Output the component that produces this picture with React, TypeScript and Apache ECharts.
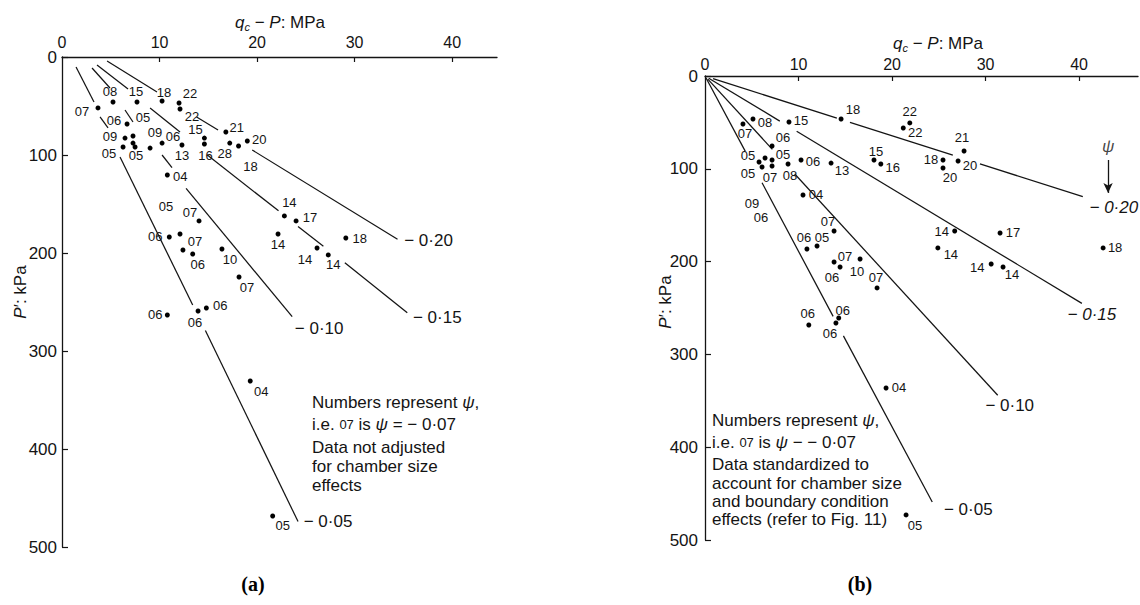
import React, { useEffect, useRef } from 'react';
import * as echarts from 'echarts';

const FONT = '"Liberation Sans", Arial, Helvetica, sans-serif';
const INK = '#141414';

// ---- axes ----
const xTickValues = [0, 10, 20, 30, 40];
const yTickValues = [0, 100, 200, 300, 400, 500];
const xMaxA = 44.6;
const xMaxB = 46.3;
const yMax = 500;
const xTitle = '{i|q}{s|c} − {i|P}: MPa';
const yTitle = '{i|P}′: kPa';

// ---- psi lines labels ----
const psiLineLabels = ['− 0·05', '− 0·10', '− 0·15', '− 0·20'];

type Pt = [number, number];
type Seg = [Pt, Pt];

// Panel (a): visible pieces of each psi line [MPa, kPa]
const lineA05: Seg[] = [[[1.44, 10.2], [3.28, 45.9]], [[3.9, 61.2], [4.72, 72.4]], [[5.95, 102], [13.4, 253]], [[14.7, 279], [24.2, 474]]];
const lineA10: Seg[] = [[[3.08, 11.2], [4.92, 31.6]], [[6.46, 54.1], [7.28, 66.3]], [[10.26, 100], [11.28, 113]], [[12.72, 134], [23.6, 265]]];
const lineA15: Seg[] = [[[3.59, 8.2], [6.77, 32.7]], [[9.03, 52], [12.1, 76.5]], [[14.9, 100], [22.2, 157]], [[24.2, 173], [26.8, 193]], [[29.0, 210], [35.4, 261]]];
const lineA20: Seg[] = [[[4.62, 4.1], [9.74, 35.7]], [[13.8, 61.2], [16.0, 74.5]], [[19.5, 94.9], [34.4, 186]]];

// Panel (b)
const lineB05: Seg[] = [[[0.1, 1.9], [4.3, 81]], [[6.1, 115], [13.7, 259]], [[14.8, 280], [24.3, 459]]];
const lineB10: Seg[] = [[[0.3, 3.3], [7.2, 79]], [[9.6, 105.6], [31.3, 344]]];
const lineB15: Seg[] = [[[0.4, 2.4], [8.0, 48.6]], [[9.8, 59.6], [40.3, 245]]];
const lineB20: Seg[] = [[[0.86, 2.8], [14.1, 45.4]], [[15.5, 49.9], [26.5, 85.3]], [[29.4, 94.7], [40.4, 130]]];

// Panel (a) data points: [qc-P MPa, P' kPa, psi label]
const pointsA: [number, number, string][] = [
  [3.69, 52.0, '07'], [5.23, 45.9, '08'], [7.69, 45.9, '15'], [10.26, 44.9, '18'],
  [12.0, 46.9, '22'], [12.1, 53.1, '22'], [6.67, 68.4, '06'], [6.46, 82.7, '09'],
  [7.28, 80.6, '05'], [7.28, 87.8, '09'], [7.49, 91.8, '05'], [6.26, 91.8, '05'],
  [9.03, 92.9, ''], [10.26, 87.8, '06'], [12.3, 89.8, '13'], [14.6, 82.7, '15'],
  [14.6, 88.8, '16'], [16.8, 76.5, '21'], [17.2, 87.8, '28'], [18.1, 90.8, '18'],
  [19.0, 85.7, '20'], [10.8, 120.4, '04'], [14.05, 167.3, '07'], [12.1, 180.6, '05'],
  [11.0, 183.7, '06'], [12.4, 196.9, '07'], [13.4, 201, '06'], [16.4, 195.9, '10'],
  [18.15, 224.5, '07'], [13.95, 259.2, '06'], [14.8, 256.1, '06'], [10.8, 263.3, '06'],
  [19.3, 330.6, '04'], [21.6, 468.4, '05'], [22.8, 162.2, '14'], [24.0, 167.3, '17'],
  [22.15, 180.6, '14'], [26.15, 194.9, '14'], [27.3, 202, '14'], [29.1, 184.7, '18'],
];
// label placement offsets (px) for panel (a)
const labelOffsetA: Pt[] = [
  [-16, 4], [-3, -10], [-1, -10], [2, -9],
  [11, -9], [12, 7], [-13, -4], [-15, -2],
  [10, -18], [22, -11], [1, 9], [-14, 7],
  [0, 0], [11, -7], [0, 10], [-9, -9],
  [1, 11], [11, -4], [-5, 10], [12, 21],
  [12, -1], [13, 2], [-9, -8], [-14, -27],
  [-14, -1], [12, -8], [5, 11], [8, 11],
  [8, 10], [-3, 11], [14, -2], [-12, -1],
  [11, 11], [10, 9], [5, -13], [14, -3],
  [0, 11], [-12, 11], [5, 10], [14, 0],
];

// Panel (b) data points
const pointsB: [number, number, string][] = [
  [4.06, 51.7, '07'], [5.13, 46.3, '08'], [8.98, 49.6, '15'], [14.55, 46.3, '18'],
  [7.17, 75.4, '06'], [5.78, 92.7, '05'], [6.42, 88.4, ''], [7.17, 90.5, '05'],
  [7.17, 97.0, '07'], [6.1, 98.1, '05'], [8.88, 94.8, '08'], [10.27, 90.5, '06'],
  [13.48, 93.8, '13'], [10.48, 128.2, '04'], [13.8, 167.0, '07'], [10.9, 186.4, '06'],
  [11.98, 183.2, '05'], [13.8, 200.4, '07'], [14.44, 205.8, '06'], [16.58, 197.2, '10'],
  [18.4, 228.4, '07'], [11.1, 268.3, '06'], [14.0, 266.2, '06'], [14.3, 260.8, '06'],
  [19.36, 336.2, '04'], [21.5, 473.0, '05'], [21.9, 50.6, '22'], [21.2, 56.0, '22'],
  [27.7, 80.8, '21'], [18.07, 90.5, '15'], [18.8, 94.8, '16'], [25.45, 90.5, '18'],
  [25.45, 99.1, '20'], [27.06, 91.6, '20'], [26.7, 167.0, '14'], [31.55, 169.2, '17'],
  [24.9, 185.3, '14'], [30.6, 202.6, '14'], [31.87, 205.8, '14'], [42.57, 185.3, '18'],
];
const labelOffsetB: Pt[] = [
  [2, 10], [12, 4], [12, -2], [12, -9],
  [11, -8], [-11, -7], [0, 0], [11, -5],
  [-2, 11], [-14, 6], [2, 12], [12, 2],
  [11, 7], [13, 0], [-6, -9], [-3, -11],
  [5, -9], [11, -5], [-8, 11], [-3, 12],
  [-1, -10], [-1, -11], [-6, 10], [4, -8],
  [13, 0], [9, 11], [0, -11], [12, 5],
  [-2, -13], [2, -8], [12, 4], [-12, 0],
  [7, 10], [12, 4], [-13, 1], [13, -1],
  [13, 7], [-14, 3], [9, 8], [12, 0],
];
// labels printed without a visible point in panel (b)
const labelOnlyB: [number, number, string][] = [[5.03, 136.9, '09'], [5.99, 153.0, '06']];

// psi arrow in panel (b)
const psiSymbolPos: Pt = [43.1, 76.5];
const psiArrow: Seg = [[43.1, 90.5], [43.1, 126]];

// line label offsets (px) from each line end
const lineLabelOffsetA: Pt[] = [[30, 0], [27, 12], [30, 5], [31, 1]];
const lineLabelOffsetB: Pt[] = [[36, 8], [12, 10], [10, 11], [31, 11]];

function linesSeries(segs: Seg[], idx: number) {
  return {
    type: 'lines',
    coordinateSystem: 'cartesian2d',
    xAxisIndex: idx,
    yAxisIndex: idx,
    polyline: false,
    silent: true,
    lineStyle: { color: INK, width: 1.25, opacity: 1 },
    data: segs.map((s) => ({ coords: s })),
  };
}

function pointsSeries(pts: [number, number, string][], offs: Pt[], idx: number, size: number) {
  return {
    type: 'scatter',
    xAxisIndex: idx,
    yAxisIndex: idx,
    symbol: 'circle',
    symbolSize: size,
    silent: true,
    itemStyle: { color: '#000', opacity: 1 },
    label: {
      show: true,
      position: 'inside',
      formatter: '{b}',
      fontSize: 13,
      fontFamily: FONT,
      color: INK,
      textBorderWidth: 0,
    },
    data: pts.map((p, i) => ({ name: p[2], value: [p[0], p[1]], label: { offset: offs[i] || [0, 0] } })),
  };
}

function lineLabelSeries(lines: Seg[][], offs: Pt[], idx: number, italic: boolean[]) {
  return {
    type: 'scatter',
    xAxisIndex: idx,
    yAxisIndex: idx,
    symbolSize: 0,
    silent: true,
    itemStyle: { opacity: 1 },
    label: {
      show: true,
      position: 'inside',
      formatter: '{b}',
      fontSize: 17,
      fontFamily: FONT,
      color: INK,
      textBorderWidth: 0,
    },
    data: lines.map((segs, i) => {
      const end = segs[segs.length - 1][1];
      return {
        name: psiLineLabels[i],
        value: end,
        label: { offset: offs[i], fontStyle: italic[i] ? 'italic' : 'normal' },
      };
    }),
  };
}

function xAxisCfg(grid: number, max: number, labelMargin: number) {
  return {
    gridIndex: grid,
    type: 'value',
    position: 'top',
    min: 0,
    max,
    axisLine: { show: true, onZero: false, lineStyle: { color: INK, width: 1.3 } },
    axisTick: { show: true, inside: true, length: 5, lineStyle: { color: INK, width: 1.2 }, customValues: xTickValues.slice(1) },
    axisLabel: { show: true, customValues: xTickValues, margin: labelMargin, fontSize: 16, color: INK, fontFamily: FONT },
    splitLine: { show: false },
  };
}

function yAxisCfg(grid: number, labelMargin: number) {
  return {
    gridIndex: grid,
    type: 'value',
    inverse: true,
    min: 0,
    max: yMax,
    interval: 100,
    axisLine: { show: true, onZero: false, lineStyle: { color: INK, width: 1.3 } },
    axisTick: { show: true, inside: true, length: 6, lineStyle: { color: INK, width: 1.2 } },
    axisLabel: { show: true, margin: labelMargin, fontSize: 17, color: INK, fontFamily: FONT, customValues: yTickValues },
    splitLine: { show: false },
  };
}

const richStyles = {
  s: { fontSize: 13, fontFamily: FONT, fill: INK },
  i: { fontSize: 17, fontStyle: 'italic', fontFamily: FONT, fill: INK },
  sub: { fontSize: 11, fontStyle: 'italic', fontFamily: FONT, fill: INK, padding: [9, 0, 0, 0] },
};

function noteText(x: number, y: number, text: string, align = 'left', rotation = 0) {
  return {
    type: 'text',
    x,
    y,
    rotation,
    silent: true,
    style: {
      text,
      fontSize: 17,
      fontFamily: FONT,
      fill: INK,
      align,
      verticalAlign: 'middle',
      rich: richStyles,
    },
  };
}

function titleText(x: number, y: number) {
  return noteText(x, y, '{i|q}{sub|c} − {i|P}: MPa', 'center');
}

function buildOption() {
  return {
    animation: false,
    backgroundColor: '#ffffff',
    grid: [
      { left: 62, top: 57, width: 435, height: 490, containLabel: false },
      { left: 705, top: 76, width: 433, height: 464, containLabel: false },
    ],
    xAxis: [xAxisCfg(0, xMaxA, 7), xAxisCfg(1, xMaxB, 4)],
    yAxis: [yAxisCfg(0, 5), yAxisCfg(1, 7)],
    series: [
      linesSeries(lineA05, 0), linesSeries(lineA10, 0), linesSeries(lineA15, 0), linesSeries(lineA20, 0),
      linesSeries(lineB05, 1), linesSeries(lineB10, 1), linesSeries(lineB15, 1), linesSeries(lineB20, 1),
      pointsSeries(pointsA, labelOffsetA, 0, 5),
      pointsSeries(pointsB, labelOffsetB, 1, 5),
      pointsSeries(labelOnlyB, [[0, 0], [0, 0]], 1, 0),
      lineLabelSeries([lineA05, lineA10, lineA15, lineA20], lineLabelOffsetA, 0, [false, false, false, false]),
      lineLabelSeries([lineB05, lineB10, lineB15, lineB20], lineLabelOffsetB, 1, [false, false, true, true]),
      {
        type: 'scatter',
        xAxisIndex: 1,
        yAxisIndex: 1,
        symbolSize: 0,
        silent: true,
        label: { show: true, position: 'inside', formatter: 'ψ', fontSize: 17, fontStyle: 'italic', fontFamily: FONT, color: INK },
        data: [psiSymbolPos],
        markLine: {
          silent: true,
          animation: false,
          symbol: ['none', 'arrow'],
          symbolSize: [7, 10],
          label: { show: false },
          lineStyle: { color: INK, width: 1.3, type: 'solid' },
          data: [[{ coord: psiArrow[0] }, { coord: psiArrow[1] }]],
        },
      },
    ],
    graphic: [
      titleText(280, 22),
      titleText(938, 43),
      noteText(20, 292, yTitle.replace('{i|P}', '{i|P}'), 'center', Math.PI / 2),
      noteText(665, 302, yTitle, 'center', Math.PI / 2),
      noteText(312, 402, 'Numbers represent {i|ψ},'),
      noteText(312, 424, 'i.e. {s|07} is {i|ψ} = − 0·07'),
      noteText(312, 447, 'Data not adjusted'),
      noteText(312, 466, 'for chamber size'),
      noteText(312, 485, 'effects'),
      noteText(712, 420, 'Numbers represent {i|ψ},'),
      noteText(712, 442, 'i.e. {s|07} is {i|ψ} − − 0·07'),
      noteText(712, 464, 'Data standardized to'),
      noteText(712, 483, 'account for chamber size'),
      noteText(712, 501, 'and boundary condition'),
      noteText(712, 519, 'effects (refer to Fig. 11)'),
      {
        type: 'text', x: 253, y: 584, silent: true,
        style: { text: '(a)', fontSize: 20, fontWeight: 'bold', fontFamily: '"Liberation Serif", "Times New Roman", serif', fill: '#000', align: 'center', verticalAlign: 'middle' },
      },
      {
        type: 'text', x: 860, y: 584, silent: true,
        style: { text: '(b)', fontSize: 20, fontWeight: 'bold', fontFamily: '"Liberation Serif", "Times New Roman", serif', fill: '#000', align: 'center', verticalAlign: 'middle' },
      },
    ],
  };
}

export default function App() {
  const ref = useRef<HTMLDivElement>(null);
  useEffect(() => {
    document.body.style.margin = '0';
    if (!ref.current) return;
    const chart = echarts.init(ref.current, null, { renderer: 'svg' });
    chart.setOption(buildOption() as any);
    return () => {
      chart.dispose();
    };
  }, []);
  return <div ref={ref} style={{ width: 1140, height: 605, background: '#fff' }} />;
}
